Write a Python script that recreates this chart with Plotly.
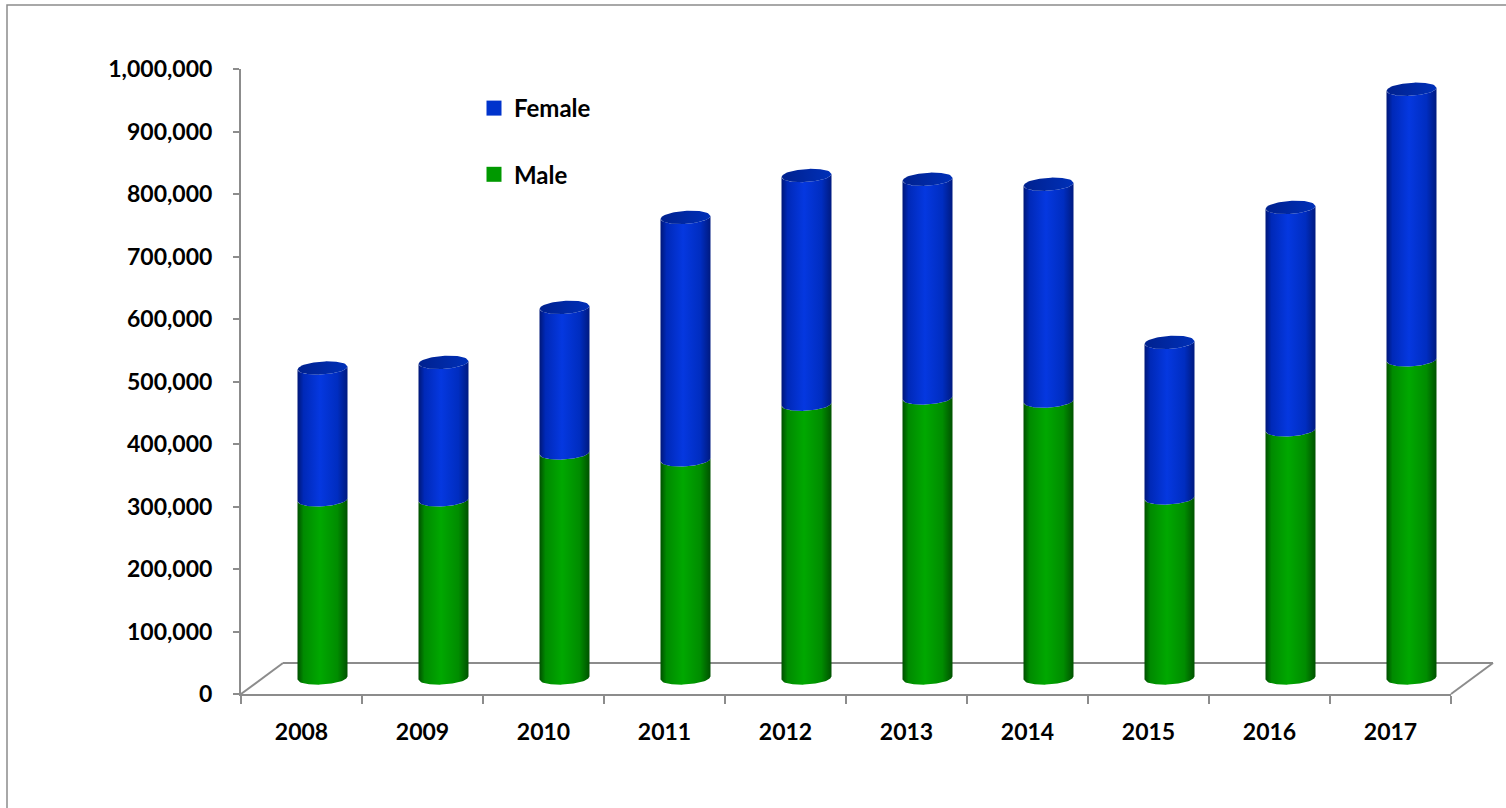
import numpy as np
import plotly.graph_objects as go

years = ["2008", "2009", "2010", "2011", "2012", "2013", "2014", "2015", "2016", "2017"]
male = [285000, 285000, 360000, 349000, 438000, 448000, 443000, 288000, 397000, 509000]
female = [211000, 220000, 233000, 388000, 366000, 350000, 347000, 249000, 356000, 433000]
y_ticks = [0, 100000, 200000, 300000, 400000, 500000, 600000, 700000, 800000, 900000, 1000000]

W, H = 1506, 808
FONT = dict(family="Lato, 'Open Sans', sans-serif", size=23, color="#000000", weight="bold")
LEG_FONT = dict(family="Lato, 'Open Sans', sans-serif", size=24, color="#000000", weight="bold")
AX = "#8c8c8c"

# pixel geometry of the plot (used only for layout domains / decorations)
X_LEFT, X_RIGHT = 241, 1451
Y_ZERO, Y_TOP = 694, 69            # value axis: 0 and 1,000,000
PX_PER_UNIT = (Y_ZERO - Y_TOP) / 1_000_000
DEPTH_DX, DEPTH_DY = 21, 16         # bars sit half-way back on the floor
CAT_PX = (X_RIGHT - X_LEFT) / len(years)
Y2_PAD = 30000                      # room below zero for the rounded cylinder bottoms

def px(x):
    return x / W

def py(y):
    return 1 - y / H

fig = go.Figure()

# cylinder geometry in data units of the bar sub-plot
half_w = 25 / CAT_PX
ell = 6.5 / PX_PER_UNIT
tilt = 1.5 / PX_PER_UNIT
u = np.linspace(-1, 1, 41)
arc = np.sqrt(1 - u ** 2)

blue_scale = [[0, "#001778"], [0.12, "#0029b8"], [0.45, "#0538e0"], [0.8, "#002dc0"], [1, "#001a80"]]
green_scale = [[0, "#004f00"], [0.12, "#008a00"], [0.45, "#00a800"], [0.8, "#008c00"], [1, "#005200"]]
cap_scale = [[0, "#00218e"], [0.6, "#002aa8"], [1, "#0030b8"]]

def segment(i, v0, v1, scale, name):
    xs = i + half_w * u
    bottom = v0 - ell * arc + tilt * u
    top = v1 - ell * arc + tilt * u
    x = np.concatenate([xs, xs[::-1], xs[:1]])
    y = np.concatenate([bottom, top[::-1], bottom[:1]])
    return go.Scatter(x=x, y=y, xaxis="x2", yaxis="y2", mode="lines", fill="toself",
                      line=dict(width=0), fillgradient=dict(type="horizontal", colorscale=scale),
                      showlegend=False, hoverinfo="skip", name=name)

def cap(i, v):
    xs = i + half_w * u
    front = v - ell * arc + tilt * u
    back = v + ell * arc + tilt * u
    x = np.concatenate([xs, xs[::-1]])
    y = np.concatenate([front, back[::-1]])
    return go.Scatter(x=x, y=y, xaxis="x2", yaxis="y2", mode="lines", fill="toself",
                      line=dict(width=0), fillgradient=dict(type="horizontal", colorscale=cap_scale),
                      showlegend=False, hoverinfo="skip")

for i in range(len(years)):
    m = male[i]
    f = female[i]
    fig.add_trace(segment(i, 0, m, green_scale, "Male"))
    fig.add_trace(segment(i, m, m + f, blue_scale, "Female"))
    fig.add_trace(cap(i, m + f))

# legend entries
fig.add_trace(go.Scatter(x=[None], y=[None], mode="markers", name="Female", legendgroup="f",
                         marker=dict(symbol="square", size=15, color="#0033cc")))
fig.add_trace(go.Scatter(x=[None], y=[None], mode="markers", name="Male", legendgroup="m",
                         marker=dict(symbol="square", size=15, color="#009900")))

fig.update_layout(
    template="none",
    width=W, height=H, autosize=False,
    margin=dict(l=0, r=0, t=0, b=0, pad=0, autoexpand=False),
    paper_bgcolor="white", plot_bgcolor="rgba(0,0,0,0)",
    font=FONT,
    showlegend=True,
    legend=dict(x=px(474), y=py(86), xanchor="left", yanchor="top", bgcolor="rgba(0,0,0,0)",
                traceorder="grouped", tracegroupgap=32, font=LEG_FONT, itemwidth=30),
    xaxis=dict(domain=[px(X_LEFT), px(X_RIGHT)], range=[-0.5, len(years) - 0.5], anchor="y",
               tickmode="array", tickvals=list(range(len(years))), ticktext=years,
               ticks="", showgrid=False, zeroline=False, showline=True, linecolor=AX, linewidth=2,
               ticklabelstandoff=16, automargin=False,
               minor=dict(tickmode="array", tickvals=[k - 0.5 for k in range(len(years) + 1)],
                          ticks="outside", ticklen=8, tickcolor=AX, tickwidth=2, showgrid=False),
               fixedrange=True),
    yaxis=dict(domain=[py(Y_ZERO), py(Y_TOP)], range=[0, 1_000_000], anchor="x",
               tickmode="array", tickvals=y_ticks, tickformat=",d",
               ticks="outside", ticklen=6, tickcolor=AX, tickwidth=2,
               showgrid=False, zeroline=False, showline=True, linecolor=AX, linewidth=2,
               ticklabelstandoff=16, automargin=False, fixedrange=True),
    xaxis2=dict(domain=[px(X_LEFT + DEPTH_DX), px(X_RIGHT + DEPTH_DX)], range=[-0.5, len(years) - 0.5],
                anchor="y2", visible=False, fixedrange=True, automargin=False),
    yaxis2=dict(domain=[py(Y_ZERO - DEPTH_DY + Y2_PAD * PX_PER_UNIT), py(Y_TOP - DEPTH_DY)],
                range=[-Y2_PAD, 1_000_000], anchor="x2", visible=False, fixedrange=True, automargin=False),
)

# floor outline (back edge and side diagonals) and outer chart border
back_dx, back_dy = 42, 31
line = dict(color=AX, width=2)
fig.add_shape(type="line", xref="paper", yref="paper", x0=px(X_LEFT + back_dx), y0=py(Y_ZERO - back_dy),
              x1=px(X_RIGHT + back_dx), y1=py(Y_ZERO - back_dy), line=line, layer="below")
fig.add_shape(type="line", xref="paper", yref="paper", x0=px(X_LEFT), y0=py(Y_ZERO),
              x1=px(X_LEFT + back_dx), y1=py(Y_ZERO - back_dy), line=line, layer="below")
fig.add_shape(type="line", xref="paper", yref="paper", x0=px(X_RIGHT), y0=py(Y_ZERO),
              x1=px(X_RIGHT + back_dx), y1=py(Y_ZERO - back_dy), line=line, layer="below")
fig.add_shape(type="rect", xref="paper", yref="paper", x0=px(7), y0=py(5), x1=1.02, y1=-0.02,
              line=dict(color="#8c8c8c", width=1.5), layer="below")

fig.write_html("out.html", config={"displayModeBar": False},
               post_script="document.body.style.margin='0';")
